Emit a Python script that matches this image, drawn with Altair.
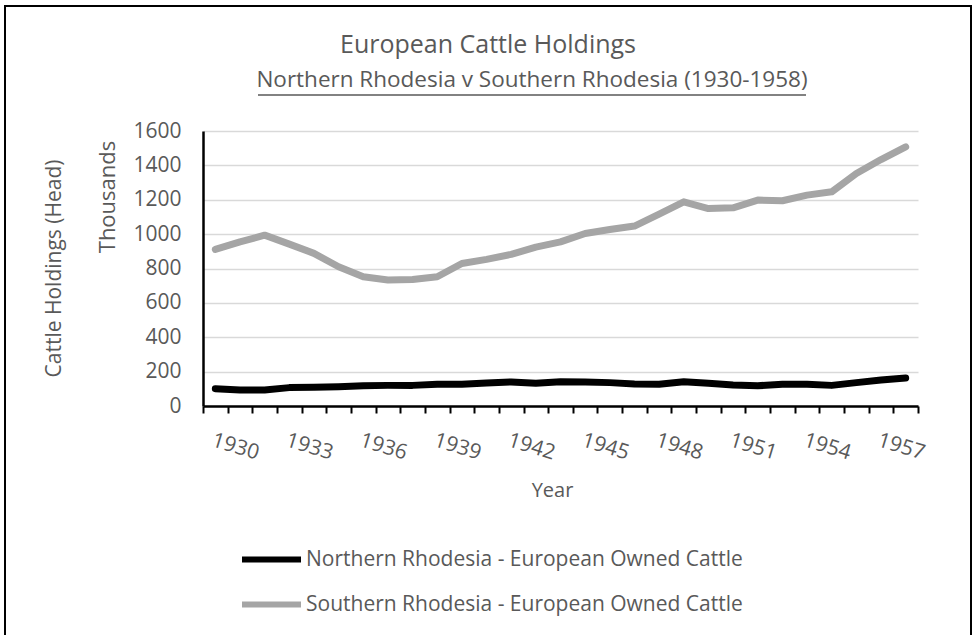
import altair as alt
import pandas as pd

# ---- data ----
years = list(range(1930, 1959))
northern = [101, 93, 93, 107, 109, 112, 118, 120, 120, 126,
            126, 134, 140, 132, 141, 140, 136, 128, 126, 141,
            132, 122, 118, 126, 126, 120, 136, 151, 163]
southern = [911, 955, 994, 942, 888, 810, 752, 733, 736, 752,
            829, 853, 882, 924, 955, 1004, 1027, 1047, 1116, 1188,
            1149, 1153, 1198, 1194, 1227, 1246, 1353, 1434, 1508]
series_names = ["Northern Rhodesia - European Owned Cattle",
                "Southern Rhodesia - European Owned Cattle"]
series_colors = ["#000000", "#a5a5a5"]
y_ticks = [0, 200, 400, 600, 800, 1000, 1200, 1400, 1600]
title_line1 = "European Cattle Holdings"
title_line2 = "Northern Rhodesia v Southern Rhodesia (1930-1958)"
unit_label = "Thousands"

year_labels = [str(y) for y in years]
df = pd.DataFrame({
    "Year": year_labels * 2,
    "Value": northern + southern,
    "Series": [series_names[0]] * len(years) + [series_names[1]] * len(years),
})

FONT = "Open Sans"
TXT = "#595959"
FS = 21
one = pd.DataFrame({"a": [0]})

lines = alt.Chart(df).mark_line(strokeWidth=7, strokeCap="round", strokeJoin="round").encode(
    x=alt.X("Year:O", sort=year_labels, bandPosition=0.5,
            scale=alt.Scale(type="band", paddingInner=0, paddingOuter=0),
            axis=alt.Axis(title="Year", titleFont=FONT, titleFontSize=20, titleFontWeight="normal",
                          titleColor=TXT, titleX=349, titleY=84, titleBaseline="middle",
                          labelExpr="(toNumber(datum.value) - 1930) % 3 == 0 ? datum.value : ''",
                          labelAngle=17, labelAlign="left", labelBaseline="top", labelPadding=16,
                          labelFont=FONT, labelFontSize=FS, labelColor=TXT,
                          labelOverlap=False, labelFlush=False,
                          tickBand="extent", ticks=True, tickSize=7, tickColor="black", tickWidth=2,
                          domainColor="black", domainWidth=2.5, grid=False)),
    y=alt.Y("Value:Q", scale=alt.Scale(domain=[0, 1600], nice=False),
            axis=alt.Axis(values=y_ticks, format="d", title="Cattle Holdings (Head)", titleFont=FONT,
                          titleFontSize=FS, titleFontWeight="normal", titleColor=TXT,
                          titleX=-149, titleY=137, titleAngle=270, titleBaseline="middle",
                          titleAlign="center",
                          labelFont=FONT, labelFontSize=FS, labelColor=TXT, labelPadding=22,
                          ticks=False, grid=True, gridColor="#d9d9d9", gridWidth=1.3,
                          domainColor="black", domainWidth=2.5)),
    color=alt.Color("Series:N", scale=alt.Scale(domain=series_names, range=series_colors),
                    legend=alt.Legend(title=None, orient="none", legendX=36, legendY=396,
                                      direction="vertical", symbolType="stroke",
                                      symbolSize=3481, symbolStrokeWidth=6,
                                      labelFont=FONT, labelFontSize=FS, labelColor=TXT,
                                      labelOffset=2, rowPadding=0,
                                      labelLimit=600)),
)

border = alt.Chart(one).mark_rect(filled=False, stroke="black", strokeWidth=2).encode(
    x=alt.value(-198), x2=alt.value(768), y=alt.value(-125), y2=alt.value(700))

t1 = alt.Chart(one).mark_text(font=FONT, fontSize=25, color=TXT, baseline="middle", align="center").encode(
    x=alt.value(285), y=alt.value(-86), text=alt.value(title_line1))
t2 = alt.Chart(one).mark_text(font=FONT, fontSize=22.5, color=TXT, baseline="middle", align="center").encode(
    x=alt.value(329), y=alt.value(-51), text=alt.value(title_line2))
underline = alt.Chart(one).mark_rule(color=TXT, strokeWidth=1.5).encode(
    x=alt.value(55), x2=alt.value(603), y=alt.value(-36))
thousands = alt.Chart(one).mark_text(font=FONT, fontSize=22, color=TXT, baseline="middle",
                                     align="center", angle=270).encode(
    x=alt.value(-95), y=alt.value(66), text=alt.value(unit_label))

chart = alt.layer(border, lines, t1, t2, underline, thousands).properties(
    width=715, height=275,
    padding={"left": 203, "top": 131, "right": 55, "bottom": 229},
    autosize=alt.AutoSizeParams(type="none"),
).configure_view(stroke=None)

chart.save("out.html", embed_options={"renderer": "svg", "actions": False})
